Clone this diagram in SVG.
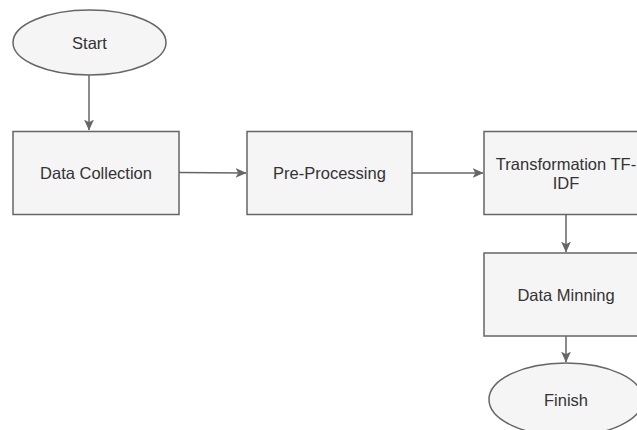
<svg xmlns="http://www.w3.org/2000/svg" width="637" height="430" viewBox="0 0 637 430">
<style>
.n{fill:#f5f5f5;stroke:#666666;stroke-width:1.5}
.t{font-family:"Liberation Sans",Arial,sans-serif;font-size:16.5px;fill:#333333;text-anchor:middle}
.c{stroke:#666666;stroke-width:1.5;fill:none}
</style>
<defs>
<marker id="a" viewBox="0 0 10 10" refX="9.5" refY="5" markerWidth="11" markerHeight="11" markerUnits="userSpaceOnUse" orient="auto">
<path d="M0,0.5 L10,5 L0,9.5 L2.5,5 Z" fill="#666666"/>
</marker>
</defs>
<rect width="637" height="430" fill="#ffffff"/>
<g id="connectors">
<path class="c" d="M89,75 L89,130" marker-end="url(#a)"/>
<path class="c" d="M179,172.5 L246,173" marker-end="url(#a)"/>
<path class="c" d="M412,173 L483,173" marker-end="url(#a)"/>
<path class="c" d="M566,214 L566,252" marker-end="url(#a)"/>
<path class="c" d="M566,336 L566,362" marker-end="url(#a)"/>
</g>
<g id="start">
<ellipse class="n" cx="89.5" cy="42.5" rx="76.5" ry="32.5"/>
<text class="t" x="89.5" y="48.5">Start</text>
</g>
<g id="data-collection">
<rect class="n" x="13" y="131.5" width="166" height="83"/>
<text class="t" x="96" y="179">Data Collection</text>
</g>
<g id="pre-processing">
<rect class="n" x="247" y="131.5" width="165" height="83"/>
<text class="t" x="329.5" y="179">Pre-Processing</text>
</g>
<g id="transformation">
<rect class="n" x="484" y="131.5" width="165" height="83"/>
<text class="t" x="566" y="170">Transformation TF-</text>
<text class="t" x="566" y="189">IDF</text>
</g>
<g id="data-minning">
<rect class="n" x="484" y="253" width="165" height="83"/>
<text class="t" x="566" y="301">Data Minning</text>
</g>
<g id="finish">
<ellipse class="n" cx="566" cy="399.5" rx="77" ry="36.5"/>
<text class="t" x="566" y="405.5">Finish</text>
</g>
</svg>
